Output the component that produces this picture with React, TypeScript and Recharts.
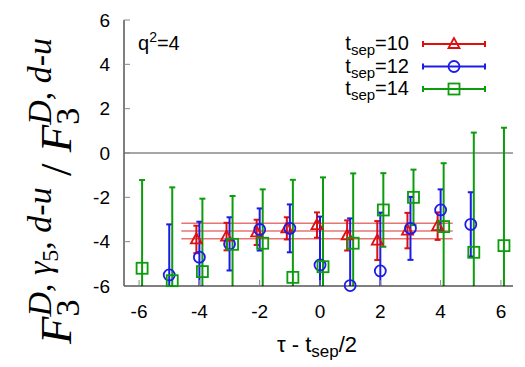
import React from 'react';
import { ComposedChart, Scatter, ErrorBar, XAxis, YAxis, ReferenceLine } from 'recharts';

// tau - tsep/2 positions and ratio values per source-sink separation
const tau10 = [-4, -3, -2, -1, 0, 1, 2, 3, 4];
const val10 = [-3.9, -3.77, -3.58, -3.4, -3.25, -3.72, -3.95, -3.5, -3.3];
const err10 = [0.62, 0.62, 0.57, 0.5, 0.57, 0.68, 0.88, 0.8, 0.62];

const tau12 = [-5, -4, -3, -2, -1, 0, 1, 2, 3, 4, 5];
const val12 = [-5.5, -4.7, -4.1, -3.45, -3.4, -5.05, -5.98, -5.32, -3.4, -2.57, -3.22];
const err12 = [2.28, 1.6, 1.2, 0.95, 1.08, 2.18, 3.03, 2.63, 1.42, 0.93, 1.45];

const tau14 = [-6, -5, -4, -3, -2, -1, 0, 1, 2, 3, 4, 5, 6];
const val14 = [-5.2, -5.76, -5.35, -4.12, -4.07, -5.61, -5.13, -4.07, -2.57, -2.0, -3.32, -4.48, -4.18];
const err14 = [3.98, 4.21, 3.29, 2.18, 2.43, 4.4, 4.03, 3.15, 1.66, 1.25, 2.86, 5.4, 5.32];

// constant fit to tsep=10
const fitMean = -3.52;
const fitErr = 0.35;
const fitRange = [-4.5, 4.5];

const xTicks = [-6, -4, -2, 0, 2, 4, 6];
const yTicks = [-6, -4, -2, 0, 2, 4, 6];
const xDomain = [-6.5, 6.4];
const yDomain = [-6, 6];

const RED = '#dd1010';
const BLUE = '#1c1ce8';
const GREEN = '#0c9c0c';
const FIT = '#e87474';

const series = [
  { name: '10', tau: tau10, val: val10, err: err10, shift: -0.1, color: RED, mark: 'triangle' },
  { name: '12', tau: tau12, val: val12, err: err12, shift: 0, color: BLUE, mark: 'circle' },
  { name: '14', tau: tau14, val: val14, err: err14, shift: 0.1, color: GREEN, mark: 'square' },
];

const toRows = (s: typeof series[number]) =>
  s.tau.map((t, i) => ({ x: t + s.shift, y: s.val[i], err: s.err[i] }));

const markShape = (mark: string, color: string) => (props: any) => {
  const { cx, cy } = props;
  if (cx == null || cy == null) return <g />;
  if (mark === 'triangle')
    return <polygon points={`${cx},${cy - 6} ${cx - 5.5},${cy + 4} ${cx + 5.5},${cy + 4}`} fill="none" stroke={color} strokeWidth={1.8} />;
  if (mark === 'circle')
    return <circle cx={cx} cy={cy} r={5.5} fill="none" stroke={color} strokeWidth={1.8} />;
  return <rect x={cx - 5.5} y={cy - 5.5} width={11} height={11} fill="none" stroke={color} strokeWidth={1.8} />;
};

const noMark = () => <g />;

const sans = 'Liberation Sans, Arial, sans-serif';
const serif = 'Liberation Serif, Times New Roman, serif';

const W = 517;
const H = 359;
const margin = { top: 12, right: 12, bottom: 51, left: 76 };
const yAxisW = 40;
const xAxisH = 30;
// plot area, used to keep the error bars inside the frame
const plot = {
  x: margin.left + yAxisW,
  y: margin.top,
  w: W - margin.left - yAxisW - margin.right,
  h: H - margin.top - margin.bottom - xAxisH,
};

const LegendRow = ({ s, i }: { s: typeof series[number]; i: number }) => {
  const y = 36 + i * 22.5;
  const x0 = 415, x1 = 477, xm = 446;
  return (
    <g>
      <text x={401} y={y + 6} textAnchor="end" fontFamily={sans} fontSize={20}>
        t<tspan fontSize={15} dy={5}>sep</tspan><tspan dy={-5}>={s.name}</tspan>
      </text>
      <line x1={x0} x2={x1} y1={y} y2={y} stroke={s.color} strokeWidth={2} />
      <line x1={x0} x2={x0} y1={y - 3} y2={y + 3} stroke={s.color} strokeWidth={2} />
      <line x1={x1} x2={x1} y1={y - 3} y2={y + 3} stroke={s.color} strokeWidth={2} />
      {markShape(s.mark, s.color)({ cx: xm, cy: y })}
    </g>
  );
};

export default function App() {
  return (
    <div style={{ position: 'relative', width: W, height: H }}>
      <style>{'.recharts-errorBar { clip-path: url(#plotClip); }'}</style>
      <ComposedChart width={W} height={H} margin={margin}>
        <XAxis xAxisId="x" type="number" dataKey="x" domain={xDomain} ticks={xTicks} height={xAxisH}
          tickSize={-6} tickMargin={25} axisLine={{ stroke: '#000' }} tickLine={{ stroke: '#888' }}
          tick={{ fill: '#000', fontSize: 19, fontFamily: sans }} />
        <XAxis xAxisId="top" orientation="top" type="number" domain={xDomain} ticks={xTicks} height={0}
          tickSize={-6} tick={false} axisLine={{ stroke: '#000' }} tickLine={{ stroke: '#888' }} />
        <YAxis yAxisId="clip" type="number" domain={yDomain} allowDataOverflow ticks={yTicks} width={yAxisW}
          tickSize={-6} tickMargin={20} axisLine={{ stroke: '#000' }} tickLine={{ stroke: '#888' }}
          tick={{ fill: '#000', fontSize: 19, fontFamily: sans }} />
        <YAxis yAxisId="right" orientation="right" type="number" domain={yDomain} ticks={yTicks} width={0}
          tickSize={-6} tick={false} axisLine={{ stroke: '#000' }} tickLine={{ stroke: '#888' }} />
        <YAxis yAxisId="free" type="number" domain={yDomain} hide />

        <ReferenceLine xAxisId="x" yAxisId="clip" y={0} stroke="#888" strokeWidth={1.5} />
        {[fitMean + fitErr, fitMean, fitMean - fitErr].map((v) => (
          <ReferenceLine key={v} xAxisId="x" yAxisId="clip" stroke={FIT} strokeWidth={1.6}
            segment={[{ x: fitRange[0] - 0.1, y: v }, { x: fitRange[1] - 0.1, y: v }]} />
        ))}

        {series.flatMap((s) => [
          <Scatter key={`bar${s.name}`} data={toRows(s)} xAxisId="x" yAxisId="clip" dataKey="y"
            shape={noMark} isAnimationActive={false}>
            <ErrorBar dataKey="err" direction="y" width={3} stroke={s.color} strokeWidth={2} isAnimationActive={false} />
          </Scatter>,
          <Scatter key={`pt${s.name}`} data={toRows(s)} xAxisId="x" yAxisId="free" dataKey="y"
            shape={markShape(s.mark, s.color)} isAnimationActive={false} />,
        ])}
      </ComposedChart>

      <svg width={W} height={H} style={{ position: 'absolute', left: 0, top: 0, pointerEvents: 'none' }}>
        <defs>
          <clipPath id="plotClip" clipPathUnits="userSpaceOnUse">
            <rect x={plot.x} y={plot.y} width={plot.w} height={plot.h} />
          </clipPath>
        </defs>
        <text x={130} y={42} fontFamily={sans} fontSize={20}>
          q<tspan fontSize={14} dy={-8}>2</tspan><tspan dy={8}>=4</tspan>
        </text>
        {series.map((s, i) => <LegendRow key={s.name} s={s} i={i} />)}

        <text x={309} y={344} textAnchor="middle" fontFamily={sans} fontSize={22}>
          τ - t<tspan fontSize={17} dy={5}>sep</tspan><tspan dy={-5}>/2</tspan>
        </text>

        <text transform="translate(63,183) rotate(-90)" textAnchor="middle" fontFamily={serif} fontSize={45}>
          <tspan fontStyle="italic">F</tspan>
          <tspan fontSize={34} dy={8}>3</tspan>
          <tspan fontSize={34} dx={-17} dy={-28} fontStyle="italic">D</tspan>
          <tspan fontSize={34}>, </tspan>
          <tspan fontSize={34} fontStyle="italic">γ</tspan>
          <tspan fontSize={24} dy={7}>5</tspan>
          <tspan fontSize={34} dy={-7}>, </tspan>
          <tspan fontSize={34} fontStyle="italic">d-u</tspan>
          <tspan dy={20}> / </tspan>
          <tspan fontStyle="italic">F</tspan>
          <tspan fontSize={34} dy={8}>3</tspan>
          <tspan fontSize={34} dx={-17} dy={-28} fontStyle="italic">D</tspan>
          <tspan fontSize={34}>, </tspan>
          <tspan fontSize={34} fontStyle="italic">d-u</tspan>
        </text>
      </svg>
    </div>
  );
}
